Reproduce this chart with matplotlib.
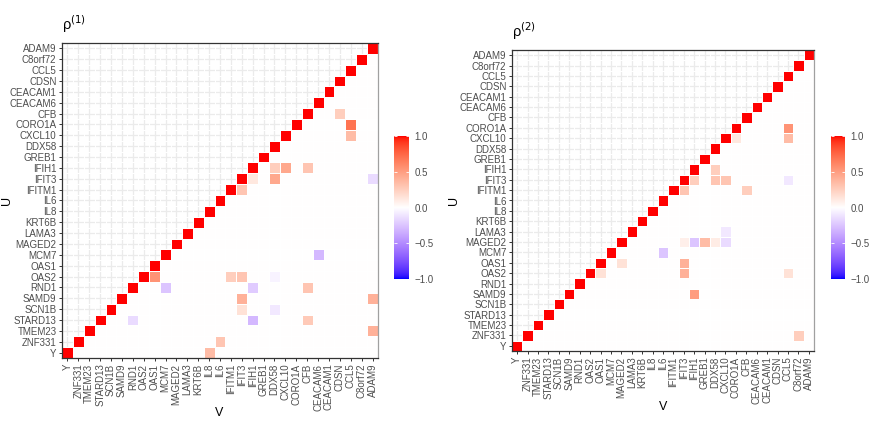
import matplotlib
matplotlib.use("Agg")
import matplotlib.pyplot as plt
import numpy as np
from matplotlib.colors import ListedColormap

plt.rcParams["font.family"] = ["Liberation Sans", "DejaVu Sans"]
plt.rcParams["mathtext.fontset"] = "dejavusans"

# gene order: index 0 is bottom / left
GENES = ["Y", "ZNF331", "TMEM23", "STARD13", "SCN1B", "SAMD9", "RND1", "OAS2",
         "OAS1", "MCM7", "MAGED2", "LAMA3", "KRT6B", "IL8", "IL6", "IFITM1",
         "IFIT3", "IFIH1", "GREB1", "DDX58", "CXCL10", "CORO1A", "CFB",
         "CEACAM6", "CEACAM1", "CDSN", "CCL5", "C8orf72", "ADAM9"]

# off-diagonal entries of rho^(1): row gene (U), column gene (V), value
rows1 = ["CFB", "CORO1A", "CXCL10", "IFIH1", "IFIH1", "IFIH1", "IFIT3", "IFIT3",
         "IFIT3", "IFITM1", "OAS2", "OAS2", "OAS2", "OAS2", "MCM7", "RND1",
         "RND1", "RND1", "SAMD9", "SAMD9", "SCN1B", "SCN1B", "STARD13",
         "STARD13", "STARD13", "TMEM23", "ZNF331", "Y"]
cols1 = ["CDSN", "CCL5", "CCL5", "DDX58", "CXCL10", "CFB", "IFIH1", "DDX58",
         "ADAM9", "IFIT3", "OAS1", "IFITM1", "IFIT3", "DDX58", "CEACAM6", "MCM7",
         "IFIH1", "CFB", "IFIT3", "ADAM9", "IFIT3", "DDX58", "RND1",
         "IFIH1", "CFB", "ADAM9", "IL6", "IL8"]
vals1 = [0.25, 0.70, 0.35, 0.25, 0.45, 0.30, 0.12, 0.45,
         -0.15, 0.30, 0.55, 0.25, 0.30, -0.05, -0.30, -0.25,
         -0.22, 0.30, 0.40, 0.40, 0.15, -0.10, -0.15,
         -0.30, 0.28, 0.40, 0.30, 0.35]

# off-diagonal entries of rho^(2)
rows2 = ["CORO1A", "CXCL10", "CXCL10", "IFIH1", "IFIT3", "IFIT3", "IFIT3",
         "IFIT3", "IFITM1", "IFITM1", "LAMA3", "MAGED2", "MAGED2", "MAGED2",
         "MAGED2", "MAGED2", "MCM7", "OAS1", "OAS1", "OAS2", "OAS2", "OAS2",
         "SAMD9", "ZNF331"]
cols2 = ["CCL5", "CORO1A", "CCL5", "DDX58", "IFIH1", "DDX58", "CXCL10",
         "CCL5", "IFIT3", "CFB", "CXCL10", "IFIT3", "IFIH1", "GREB1",
         "DDX58", "CXCL10", "IL6", "MAGED2", "IFIT3", "OAS1", "IFIT3", "CCL5",
         "IFIH1", "C8orf72"]
vals2 = [0.55, 0.12, 0.35, 0.25, 0.25, 0.30, 0.30,
         -0.10, 0.30, 0.25, -0.10, 0.08, -0.25, 0.35,
         0.10, -0.15, -0.25, 0.15, 0.40, 0.15, 0.40, 0.15,
         0.50, 0.25]

TICKS_CB = [-1.0, -0.5, 0.0, 0.5, 1.0]


def srgb_to_lab(rgb):
    c = np.asarray(rgb, float)
    c = np.where(c <= 0.04045, c / 12.92, ((c + 0.055) / 1.055) ** 2.4)
    m = np.array([[0.4124, 0.3576, 0.1805],
                  [0.2126, 0.7152, 0.0722],
                  [0.0193, 0.1192, 0.9505]])
    xyz = m @ c / np.array([0.95047, 1.0, 1.08883])
    f = np.where(xyz > 0.008856, np.cbrt(xyz), 7.787 * xyz + 16 / 116)
    return np.array([116 * f[1] - 16, 500 * (f[0] - f[1]), 200 * (f[1] - f[2])])


def lab_to_srgb(lab):
    L, a, b = lab
    fy = (L + 16) / 116
    fx = fy + a / 500
    fz = fy - b / 200
    f = np.array([fx, fy, fz])
    xyz = np.where(f ** 3 > 0.008856, f ** 3, (f - 16 / 116) / 7.787)
    xyz = xyz * np.array([0.95047, 1.0, 1.08883])
    m = np.array([[3.2406, -1.5372, -0.4986],
                  [-0.9689, 1.8758, 0.0415],
                  [0.0557, -0.2040, 1.0570]])
    c = m @ xyz
    c = np.where(c <= 0.0031308, 12.92 * c, 1.055 * np.clip(c, 0, None) ** (1 / 2.4) - 0.055)
    return np.clip(c, 0, 1)


def gradient2_cmap(n=256):
    # blue - white - red, interpolated in Lab like ggplot's scale_fill_gradient2
    lo, mid, hi = srgb_to_lab([0, 0, 1]), srgb_to_lab([1, 1, 1]), srgb_to_lab([1, 0, 0])
    cols = []
    for t in np.linspace(-1, 1, n):
        if t < 0:
            lab = mid + (lo - mid) * (-t)
        else:
            lab = mid + (hi - mid) * t
        cols.append(lab_to_srgb(lab))
    return ListedColormap(cols)


CMAP = gradient2_cmap()


def build_matrix(rows, cols, vals):
    n = len(GENES)
    m = np.full((n, n), np.nan)
    for i in range(n):
        for j in range(i, n):
            m[i, j] = 0.0
        m[i, i] = 1.0
    for r, c, v in zip(rows, cols, vals):
        m[GENES.index(r), GENES.index(c)] = v
    return np.ma.masked_invalid(m)


def draw_panel(fig, rect, cb_rect, mat, title, title_xy, u_xy, v_xy):
    n = len(GENES)
    ax = fig.add_axes(rect)
    edges = np.arange(n + 1) - 0.5
    ax.pcolormesh(edges, edges, mat, cmap=CMAP, vmin=-1, vmax=1,
                  edgecolors="white", linewidth=0.5, antialiased=False, zorder=2)
    ax.set_xlim(-0.5, n - 0.5)
    ax.set_ylim(-0.5, n - 0.5)
    ax.set_xticks(range(n))
    ax.set_yticks(range(n))
    ax.set_xticklabels(GENES, rotation=90, fontsize=7, color="#4d4d4d")
    ax.set_yticklabels(GENES, fontsize=7, color="#4d4d4d")
    ax.tick_params(length=2.5, width=0.7, color="#333333", pad=1.5)
    ax.grid(True, color="#ebebeb", lw=0.9, zorder=0)
    ax.set_axisbelow(True)
    for side in ("left", "bottom", "top"):
        ax.spines[side].set_color("#333333")
        ax.spines[side].set_linewidth(0.9)
    ax.spines["right"].set_color("#a0a0a0")
    ax.spines["right"].set_linewidth(0.9)

    W, H = fig.get_size_inches() * fig.dpi
    fig.text(title_xy[0] / W, 1 - title_xy[1] / H, title, fontsize=10.5,
             ha="left", va="bottom", color="black")
    fig.text(u_xy[0] / W, 1 - u_xy[1] / H, "U", fontsize=9, rotation=90,
             ha="center", va="center")
    fig.text(v_xy[0] / W, 1 - v_xy[1] / H, "V", fontsize=9,
             ha="center", va="center")

    cax = fig.add_axes(cb_rect)
    grad = np.linspace(-1, 1, 256).reshape(-1, 1)
    cax.imshow(grad, cmap=CMAP, vmin=-1, vmax=1, aspect="auto", origin="lower",
               extent=[0, 1, -1, 1])
    cax.set_xticks([])
    cax.set_yticks(TICKS_CB)
    cax.set_yticklabels([f"{t:.1f}".replace("-", "\u2212") for t in TICKS_CB],
                        fontsize=7, color="#4d4d4d")
    cax.yaxis.tick_right()
    cax.tick_params(axis="y", direction="in", length=2.5, width=0.6,
                    color="white", left=True, right=True, pad=4)
    for s in cax.spines.values():
        s.set_visible(False)
    return ax


fig = plt.figure(figsize=(8.72, 4.36), dpi=100)
W, H = 872, 436


def px_rect(x0, y0, x1, y1):
    return [x0 / W, 1 - y1 / H, (x1 - x0) / W, (y1 - y0) / H]


mat1 = build_matrix(rows1, cols1, vals1)
mat2 = build_matrix(rows2, cols2, vals2)

draw_panel(fig, px_rect(62, 43, 378, 358), px_rect(394, 136, 409, 279), mat1,
           "\u03c1$^{(1)}$", (62, 35), (7, 200), (219, 413))
draw_panel(fig, px_rect(512, 50, 814, 351), px_rect(831, 136, 845, 279), mat2,
           "\u03c1$^{(2)}$", (512, 42), (454, 200), (663, 407))

fig.savefig("out.png", dpi=100)
